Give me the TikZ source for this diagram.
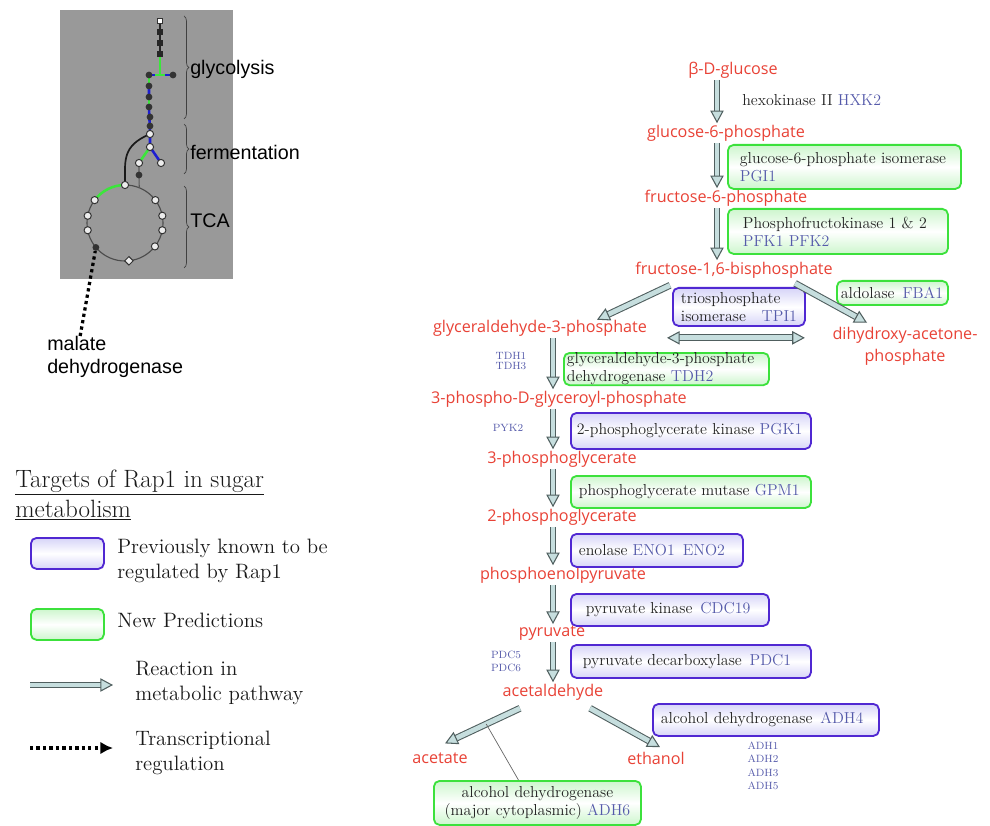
\documentclass[tikz,border=0pt]{standalone}
\usepackage{fontspec}
\usepackage{xcolor}
\usetikzlibrary{calc,arrows.meta,decorations.pathreplacing}
\newfontfamily\metfont{Open Sans}
\newfontfamily\insetfont{Liberation Sans}
\definecolor{metred}{RGB}{232,66,54}
\definecolor{geneblue}{RGB}{85,90,170}
\definecolor{boxtext}{RGB}{35,35,35}
\definecolor{knownedge}{RGB}{80,40,210}
\definecolor{knownfill}{RGB}{214,212,248}
\definecolor{newedge}{RGB}{60,225,60}
\definecolor{newfill}{RGB}{205,246,205}
\definecolor{arrowfill}{RGB}{198,222,222}
\definecolor{arrowedge}{RGB}{80,95,95}
\definecolor{insetgray}{RGB}{153,153,153}
\definecolor{netgreen}{RGB}{60,230,60}
\definecolor{netblue}{RGB}{30,30,210}
\newcommand{\gene}[1]{\textcolor{geneblue}{#1}}

\tikzset{
  metab/.style={text=metred, font=\metfont\fontsize{11.5}{15.6}\selectfont, inner sep=1pt, align=center},
  enzyme/.style={rectangle, rounded corners=4pt, line width=1.3pt, text=boxtext,
    font=\fontsize{11.3}{12.8}\selectfont, align=left, anchor=north west, inner ysep=1pt},
  known/.style={enzyme, draw=knownedge, top color=knownfill, bottom color=knownfill, middle color=white},
  newpred/.style={enzyme, draw=newedge, top color=newfill, bottom color=newfill, middle color=white},
  reaction/.style={draw=arrowedge, line width=0.75pt, double=arrowfill, double distance=3.4pt,
    -{Triangle[length=9pt, width=9.5pt, fill=arrowfill]}},
  genelist/.style={text=geneblue, font=\fontsize{7.5}{9.3}\selectfont, align=center, inner sep=0pt},
  legtext/.style={font=\fontsize{14.8}{17.8}\selectfont, text=black!90, align=left, anchor=west, inner sep=0pt},
  insettext/.style={font=\insetfont\fontsize{14}{16.4}\selectfont, align=left, anchor=west, inner sep=0pt},
  regline/.style={line width=2.3pt, dash pattern=on 2.3pt off 2.3pt},
  bracket/.style={decorate, decoration={brace, amplitude=3.5pt}, draw=black!75, line width=0.5pt},
  netline/.style={line width=1.8pt},
  netopen/.style={circle, draw=black!80, fill=white!85!gray, line width=0.7pt, inner sep=0pt, minimum size=0.18cm},
  netdot/.style={circle, fill=black!80, inner sep=0pt, minimum size=0.17cm},
  netsq/.style={rectangle, fill=black!85, inner sep=0pt, minimum size=0.14cm}
}

\begin{document}
\begin{tikzpicture}[x=0.025cm, y=-0.025cm]
\useasboundingbox (0,0) rectangle (990,826);

% overview of the network
\fill[insetgray] (60,10) rectangle (233,279);
\coordinate (s0) at (160,21);
\coordinate (t1) at (160,32);
\coordinate (t2) at (160,43);
\coordinate (t3) at (160,54);
\coordinate (tj) at (160,75);
\coordinate (bl) at (149,75);
\coordinate (br) at (173,75);
\coordinate (d1) at (149,86);
\coordinate (d2) at (149,97);
\coordinate (d3) at (149,107);
\coordinate (d4) at (150,117);
\coordinate (d5) at (150,126);
\coordinate (n1) at (150,134);
\coordinate (n2) at (150,147);
\coordinate (n3) at (139,163);
\coordinate (n4) at (161,163);
\coordinate (d6) at (139,175);
\coordinate (tca) at (125,223);
\foreach \n/\a in {c0/90,c1/143,c2/169,c3/191,c4/220,c5/276,c6/322,c7/349,c8/11,c9/37,cj/68}
  \coordinate (\n) at ([shift={(-\a:38)}]tca);
\draw[black!70, line width=0.8pt] (tca) circle (38);
\draw[netline, netgreen] (c0) arc[start angle=-90, end angle=-143, radius=38];
\draw[netline, black!85] (s0) -- (t3);
\draw[netline, netgreen] (t3) -- (tj);
\draw[netline, netblue] (bl) -- (br);
\draw[netline, netgreen] ([shift={(-5,0)}]tj) -- ([shift={(5,0)}]tj);
\draw[netline, netgreen] (bl) -- (d1) (d2) -- (d3);
\draw[netline, netblue] (d1) -- (d2) (d3) -- (n1) -- (n2) -- (n4);
\draw[netline, netgreen] (n2) -- (n3);
\draw[black!65, line width=0.8pt] (n3) -- (d6) -- (cj);
\draw[black!90, line width=1.2pt] (n1) .. controls +(-28,12) and +(0,-25) .. (c0);
\node[netsq, fill=white, draw=black!80, line width=0.5pt] (ms0) at (s0) {};
\foreach \p in {t1,t2,t3} \node[netsq] (m\p) at (\p) {};
\foreach \p in {bl,br,d1,d2,d3,d4,d5,d6,c4} \node[netdot] (m\p) at (\p) {};
\foreach \p in {n1,n2,n3,n4,c0,c1,c2,c3,c6,c7,c8,c9} \node[netopen] (m\p) at (\p) {};
\node[netopen, rectangle, rotate=45, minimum size=0.15cm] (mc5) at (c5) {};
\draw[bracket] (184,16) -- (184,119);
\draw[bracket] (184,124) -- (184,174);
\draw[bracket] (184,186) -- (184,268);
\node[insettext] (glyc) at (190,69) {glycolysis};
\node[insettext] (ferm) at (190,152) {fermentation};
\node[insettext] (tcalab) at (190,221) {TCA};
\node[insettext] (mdh) at (47,357) {malate\\dehydrogenase};
\draw[regline] ([shift={(-35,0)}]mdh.north) -- (mc4);

% legend
\node[legtext, font=\fontsize{17.8}{21.3}\selectfont] (legtitle) at (15,495)
  {\underline{Targets of Rap1 in sugar}\\\underline{metabolism}};
\node[known, minimum width=1.825cm, minimum height=0.775cm] (legknown) at (30,537) {};
\node[newpred, minimum width=1.825cm, minimum height=0.775cm] (legnew) at (30,608) {};
\node[legtext] (legknowntxt) at (117,561) {Previously known to be\\regulated by Rap1};
\node[legtext] (legnewtxt) at (117,620) {New Predictions};
\coordinate (legra) at (30,685);
\coordinate (legrb) at (113,685);
\draw[reaction] (legra) -- (legrb);
\node[legtext] (legreactxt) at (135,683) {Reaction in\\metabolic pathway};
\coordinate (legta) at (30,748);
\coordinate (legtb) at (113,748);
\draw[regline, -{Latex[length=9pt,width=9pt]}] (legta) -- (legtb);
\node[legtext] (legtrtxt) at (135,753) {Transcriptional\\regulation};

% pathway
\coordinate (col1) at (717,0);
\coordinate (col2) at (553,0);
\node[metab] (glc) at (733,70) {β-D-glucose};
\node[metab] (g6p) at (726,133) {glucose-6-phosphate};
\node[metab] (f6p) at (726,198) {fructose-6-phosphate};
\node[metab] (fbp) at (734,270) {fructose-1,6-bisphosphate};
\node[metab] (gap) at (540,328) {glyceraldehyde-3-phosphate};
\node[metab] (dhap) at (905,346) {dihydroxy-acetone-\\phosphate};
\node[metab] (bpg) at (559,399) {3-phospho-D-glyceroyl-phosphate};
\node[metab] (pg3) at (562,459) {3-phosphoglycerate};
\node[metab] (pg2) at (562,517) {2-phosphoglycerate};
\node[metab] (pep) at (563,575) {phosphoenolpyruvate};
\node[metab] (pyr) at (552,633) {pyruvate};
\node[metab] (acald) at (553,692) {acetaldehyde};
\node[metab] (acet) at (440,758) {acetate};
\node[metab] (etoh) at (656,758) {ethanol};

\node[text=boxtext, font=\fontsize{11.3}{12.8}\selectfont, anchor=west, inner sep=0pt] (hxk) at (742,100)
  {hexokinase II \gene{HXK2}};
\node[newpred, text width=5.225cm, inner xsep=0.3cm, minimum height=1.1cm] (pgi) at (727,144)
  {glucose-6-phosphate isomerase\\\gene{PGI1}};
\node[newpred, text width=4.75cm, inner xsep=0.375cm, minimum height=1.125cm] (pfk) at (727,208)
  {Phosphofructokinase 1 \& 2\\\gene{PFK1 PFK2}};
\node[known, text width=2.9cm, inner xsep=0.2cm, minimum height=0.95cm] (tpi) at (672,287)
  {triosphosphate\\isomerase \hfill\gene{TPI1}};
\node[newpred, text width=2.575cm, inner xsep=0.1cm, minimum height=0.6cm] (fba) at (836,280)
  {aldolase\enspace\gene{FBA1}};
\node[newpred, text width=4.975cm, inner xsep=0.075cm, minimum height=0.775cm, inner ysep=0pt] (tdh) at (563,352)
  {glyceraldehyde-3-phosphate\\dehydrogenase \gene{TDH2}};
\node[known, text width=5.7cm, inner xsep=0.15cm, minimum height=0.9cm] (pgk) at (570,412)
  {2-phosphoglycerate kinase \gene{PGK1}};
\node[newpred, text width=5.6cm, inner xsep=0.2cm, minimum height=0.8cm] (gpm) at (570,475)
  {phosphoglycerate mutase \gene{GPM1}};
\node[known, text width=3.9cm, inner xsep=0.2cm, minimum height=0.825cm] (eno) at (570,533)
  {enolase \gene{ENO1\enspace ENO2}};
\node[known, text width=4.2cm, inner xsep=0.375cm, minimum height=0.8cm] (cdc) at (570,593)
  {pyruvate kinase\enspace\gene{CDC19}};
\node[known, text width=5.4cm, inner xsep=0.3cm, minimum height=0.825cm] (pdc) at (570,644)
  {pyruvate decarboxylase\enspace\gene{PDC1}};
\node[known, text width=5.25cm, inner xsep=0.2cm, minimum height=0.8cm] (adh4) at (652,703)
  {alcohol dehydrogenase\enspace\gene{ADH4}};
\node[newpred, align=center, text width=4.875cm, inner xsep=0.15cm, minimum height=1.1cm] (adh6) at (433,780)
  {alcohol dehydrogenase\\(major cytoplasmic) \gene{ADH6}};

\node[genelist, font=\fontsize{7.5}{7.8}\selectfont] (tdhlist) at (511,361) {TDH1\\TDH3};
\node[genelist] (pyk) at (508,428) {PYK2};
\node[genelist] (pdclist) at (506,661) {PDC5\\PDC6};
\node[genelist, font=\fontsize{7.5}{9.5}\selectfont] (adhlist) at (763,766) {ADH1\\ADH2\\ADH3\\ADH5};

\draw[reaction] (glc.south -| col1) -- (g6p.north -| col1);
\draw[reaction] (g6p.south -| col1) -- (f6p.north -| col1);
\draw[reaction] (f6p.south -| col1) -- (fbp.north -| col1);
\draw[reaction] ([shift={(-64,5.5)}]fbp.south) -- ([shift={(57,1.5)}]gap.north);
\draw[reaction] ([shift={(61,3.5)}]fbp.south) -- ([shift={(-38,-2.5)}]dhap.north);
\draw[reaction, {Triangle[length=9pt, width=9.5pt, fill=arrowfill]}-{Triangle[length=9pt, width=9.5pt, fill=arrowfill]}]
  ([shift={(-5,11)}]tpi.south west) -- ([shift={(-1,11)}]tpi.south east);
\draw[reaction] (gap.south -| col2) -- (bpg.north -| col2);
\draw[reaction] (bpg.south -| col2) -- (pg3.north -| col2);
\draw[reaction] (pg3.south -| col2) -- (pg2.north -| col2);
\draw[reaction] (pg2.south -| col2) -- (pep.north -| col2);
\draw[reaction] (pep.south -| col2) -- (pyr.north -| col2);
\draw[reaction] (pyr.south -| col2) -- (acald.north -| col2);
\draw[reaction] ([shift={(-33,6.5)}]acald.south) -- coordinate[pos=0.45] (accut) ([shift={(5,-7.5)}]acet.north);
\draw[reaction] ([shift={(37,6.5)}]acald.south) -- ([shift={(4,-3)}]etoh.north);
\draw[black!60, line width=0.5pt] (accut) -- ([shift={(-19,0)}]adh6.north);
\end{tikzpicture}
\end{document}
